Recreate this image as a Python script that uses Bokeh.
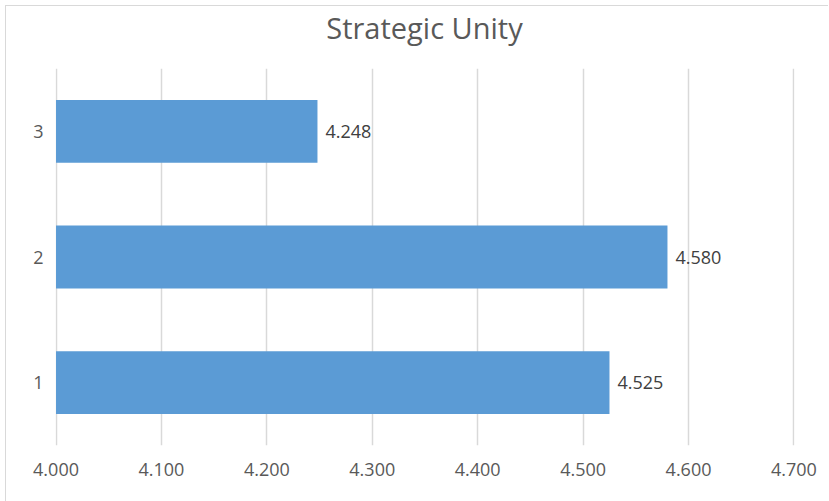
from bokeh.plotting import figure
from bokeh.models import ColumnDataSource, Range1d, FixedTicker, Div
from bokeh.layouts import column
from bokeh.core.properties import value
from bokeh.embed import file_html
from bokeh.resources import INLINE

title_text = "Strategic Unity"
categories = [1, 2, 3]
scores = [4.525, 4.580, 4.248]
score_labels = ["4.525", "4.580", "4.248"]
x_ticks = [4.0, 4.1, 4.2, 4.3, 4.4, 4.5, 4.6, 4.7]
x_tick_labels = {4.0: "4.000", 4.1: "4.100", 4.2: "4.200", 4.3: "4.300",
                 4.4: "4.400", 4.5: "4.500", 4.6: "4.600", 4.7: "4.700"}
baseline = 4.0

FONT = "Open Sans"

src = ColumnDataSource(dict(
    y=categories,
    right=scores,
    left=[baseline] * len(scores),
    label=score_labels,
))

title = Div(text=title_text, width=807, height=44, margin=(0, 0, 0, 15),
            styles={"font-family": FONT, "font-size": "29px", "color": "#595959",
                    "text-align": "center", "line-height": "44px",
                    "background-color": "white"})

xr = Range1d(3.9995, 4.7005)
yr = Range1d(0.5, 3.5)
p = figure(width=822, height=451, output_backend="svg", toolbar_location=None,
           x_range=xr, y_range=yr,
           min_border_left=49, min_border_right=34, min_border_top=18,
           min_border_bottom=56, margin=0)
p.outline_line_color = None
p.background_fill_color = "white"
p.border_fill_color = "white"

p.hbar(y="y", left="left", right="right", height=0.5, source=src,
       fill_color="#5B9BD5", line_color=None)

p.text(x="right", y="y", text="label", source=src, x_offset=8,
       text_baseline="middle", text_align="left",
       text_font=value(FONT), text_font_size="18px", text_color="#404040")

# axes
p.xaxis.ticker = FixedTicker(ticks=x_ticks)
p.xaxis.major_label_overrides = x_tick_labels
p.xaxis.axis_line_color = None
p.xaxis.major_tick_line_color = None
p.xaxis.minor_tick_line_color = None
p.xaxis.major_tick_out = 0
p.xaxis.major_label_standoff = 17
p.xaxis.major_label_text_font = FONT
p.xaxis.major_label_text_font_size = "18px"
p.xaxis.major_label_text_color = "#595959"

p.yaxis.ticker = FixedTicker(ticks=categories)
p.yaxis.axis_line_color = None
p.yaxis.major_tick_line_color = None
p.yaxis.minor_tick_line_color = None
p.yaxis.major_tick_out = 0
p.yaxis.major_label_standoff = 12
p.yaxis.major_label_text_font = FONT
p.yaxis.major_label_text_font_size = "18px"
p.yaxis.major_label_text_color = "#595959"

p.xgrid.grid_line_color = "#D9D9D9"
p.xgrid.grid_line_width = 1.5
p.ygrid.grid_line_color = None

layout = column(title, p, spacing=0)
layout.styles = {"margin-left": "5px", "margin-top": "5px",
                 "border-left": "1px solid #D9D9D9", "border-top": "1px solid #D9D9D9",
                 "background-color": "white"}

open("out.html", "w").write(file_html(layout, INLINE))
